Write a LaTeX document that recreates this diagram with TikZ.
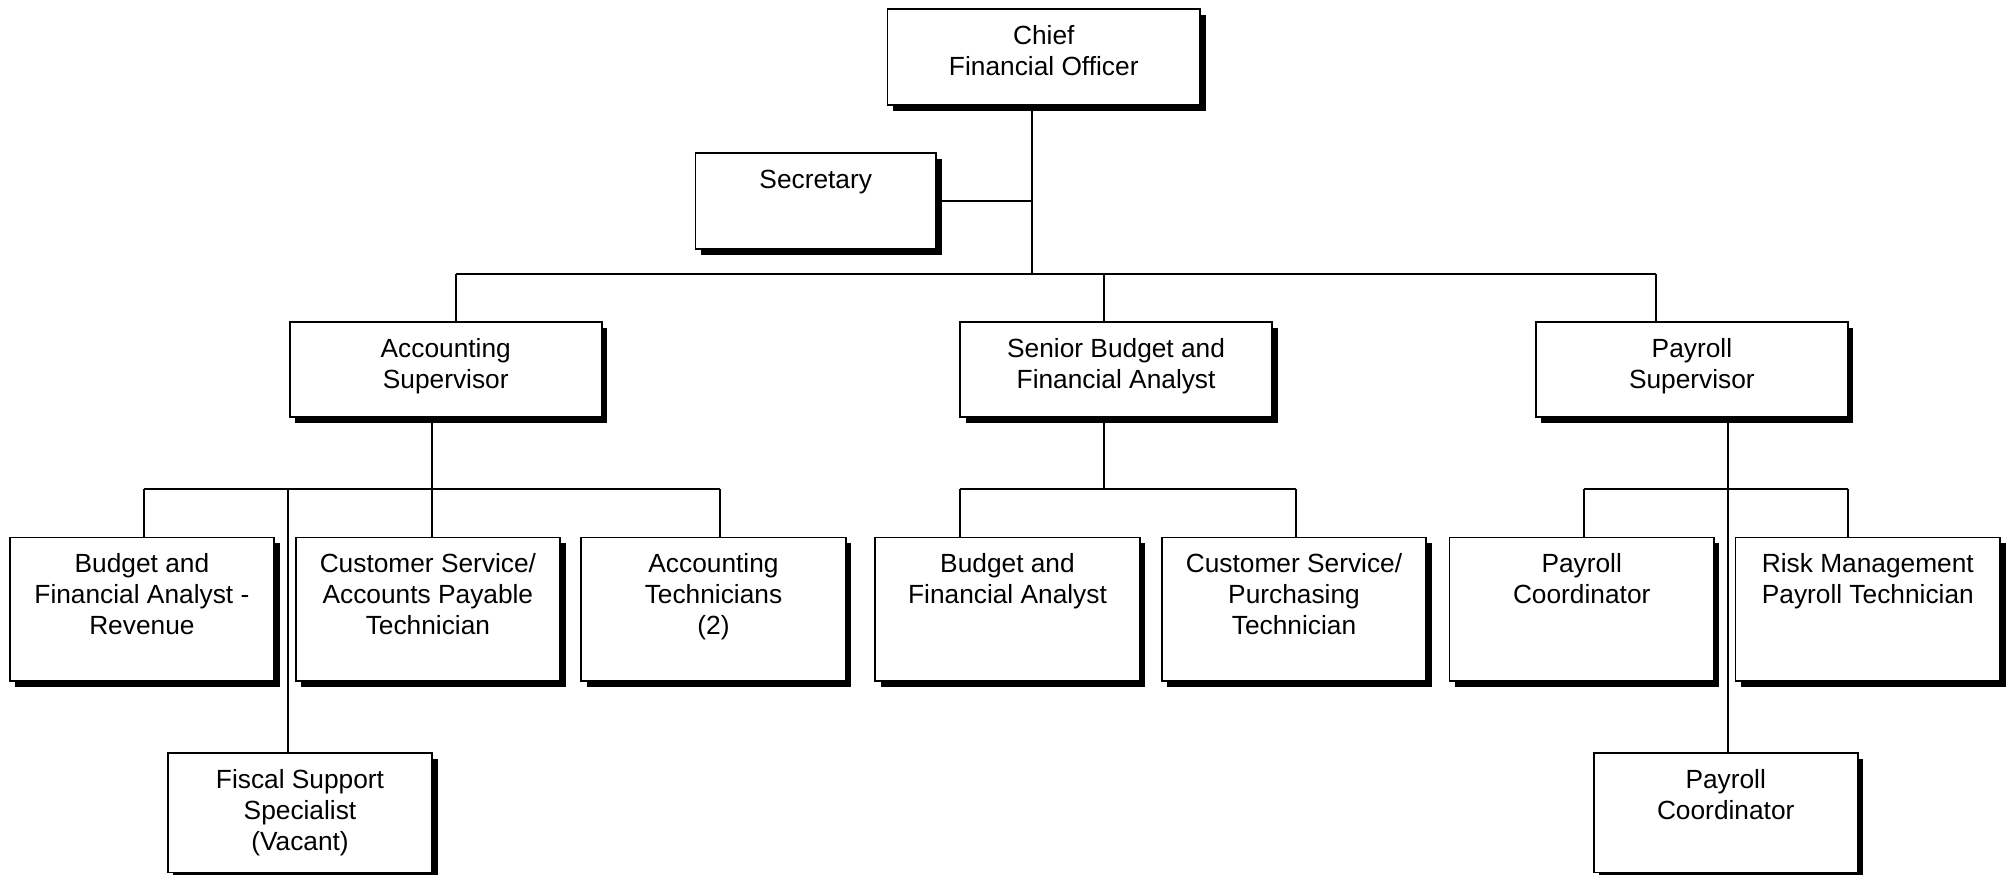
\documentclass[tikz,border=0pt]{standalone}
\usepackage{fontspec}
\setmainfont{Liberation Sans}
\usetikzlibrary{shadows,calc}

\tikzset{
  post/.style={rectangle, draw=black, fill=white, line width=1.7pt, inner sep=0pt,
    general shadow={fill=black, shadow xshift=5.5pt, shadow yshift=-5.5pt}},
  posttitle/.style={anchor=north, align=center, inner sep=0pt,
    font=\fontsize{26.3}{30.8}\selectfont},
  link/.style={draw=black, line width=2pt},
}
% strut fixing the first baseline 20pt below the top of a title
\newcommand{\firstline}{\rule{0pt}{20pt}}
% \orgpost{name}{center x}{center y}{width}{height}{title}
\newcommand{\orgpost}[6]{%
  \node[post, minimum width=#4pt, minimum height=#5pt] (#1) at (#2,#3) {};
  \node[posttitle] (#1-title) at ($(#1.north)+(0,16)$) {\firstline#6};
}

\begin{document}
\begin{tikzpicture}[x=1pt, y=-1pt]
  \useasboundingbox (0,0) rectangle (2011,875);

  % top level
  \orgpost{cfo}{1043.75}{57.3}{312.5}{96}{Chief\\Financial Officer}
  \orgpost{sec}{815.75}{201.3}{240.5}{96}{Secretary}

  % managers
  \orgpost{acct}{445.75}{369.5}{312}{95}{Accounting\\Supervisor}
  \orgpost{snr}{1116.1}{369.5}{312}{95}{Senior Budget and\\Financial Analyst}
  \orgpost{pay}{1691.9}{369.5}{312}{95}{Payroll\\Supervisor}

  % staff
  \orgpost{bfar}{141.9}{609.2}{264.5}{143.7}{Budget and\\Financial Analyst -\\Revenue}
  \orgpost{csap}{427.9}{609.2}{264.5}{143.7}{Customer Service/\\Accounts Payable\\Technician}
  \orgpost{at}{713.5}{609.2}{264.5}{143.7}{Accounting\\Technicians\\(2)}
  \orgpost{bfa}{1007.5}{609.2}{264.5}{143.7}{Budget and\\Financial Analyst}
  \orgpost{csp}{1294}{609.2}{264.5}{143.7}{Customer Service/\\Purchasing\\Technician}
  \orgpost{pc}{1581.7}{609.2}{264.5}{143.7}{Payroll\\Coordinator}
  \orgpost{rm}{1867.8}{609.2}{264.5}{143.7}{Risk Management\\Payroll Technician}

  \orgpost{fss}{300}{812.8}{264.6}{119.5}{Fiscal Support\\Specialist\\(Vacant)}
  \orgpost{pc2}{1725.7}{812.8}{264}{119.5}{Payroll\\Coordinator}

  % chief's branch
  \coordinate (hub) at (1032,274);
  \coordinate (barL) at (455.8,274);
  \coordinate (barS) at (1103.8,274);
  \coordinate (barR) at (1656,274);
  \draw[link] (cfo.south -| hub) -- (hub);
  \draw[link] (sec.east) -- (sec.east -| hub);
  \draw[link] (barL) -- (barR);
  \draw[link] (barL) -- (barL |- acct.north);
  \draw[link] (barS) -- (barS |- snr.north);
  \draw[link] (barR) -- (barR |- pay.north);

  % accounting branch
  \coordinate (aj) at (432,489.3);
  \coordinate (aL) at (143.75,489.3);
  \coordinate (aF) at (288,489.3);
  \coordinate (aR) at (719.5,489.3);
  \draw[link] (aj |- acct.south) -- (aj);
  \draw[link] (aL) -- (aR);
  \draw[link] (aL) -- (aL |- bfar.north);
  \draw[link] (aj) -- (aj |- csap.north);
  \draw[link] (aR) -- (aR |- at.north);
  \draw[link] (aF) -- (aF |- fss.north);

  % budget branch
  \coordinate (sj) at (1103.8,489.3);
  \coordinate (sL) at (960,489.3);
  \coordinate (sR) at (1296,489.3);
  \draw[link] (sj |- snr.south) -- (sj);
  \draw[link] (sL) -- (sR);
  \draw[link] (sL) -- (sL |- bfa.north);
  \draw[link] (sR) -- (sR |- csp.north);

  % payroll branch
  \coordinate (pj) at (1727.7,489.3);
  \coordinate (pL) at (1584.2,489.3);
  \coordinate (pR) at (1848,489.3);
  \draw[link] (pj |- pay.south) -- (pj |- pc2.north);
  \draw[link] (pL) -- (pR);
  \draw[link] (pL) -- (pL |- pc.north);
  \draw[link] (pR) -- (pR |- rm.north);
\end{tikzpicture}
\end{document}
